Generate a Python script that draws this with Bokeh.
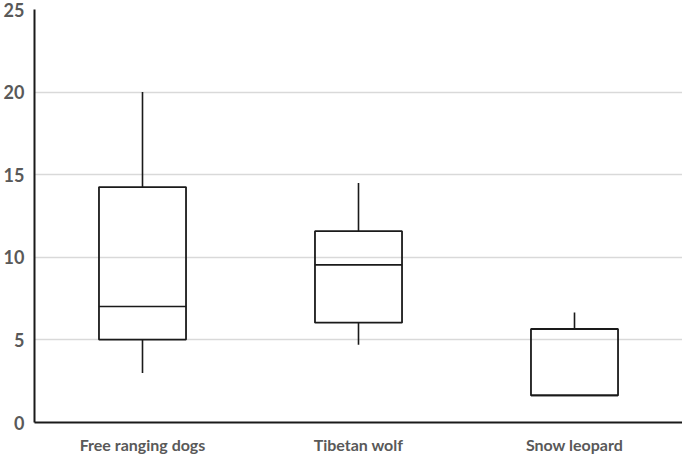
from bokeh.plotting import figure
from bokeh.models import FixedTicker, Range1d
from bokeh.embed import file_html
from bokeh.resources import INLINE

categories = ["Free ranging dogs", "Tibetan wolf", "Snow leopard"]
whisker_low = [3.0, 4.7, 1.64]
q1 = [5.02, 6.04, 1.64]
median = [7.02, 9.54, 1.64]
q3 = [14.25, 11.58, 5.66]
whisker_high = [20.0, 14.5, 6.66]
y_ticks = [0, 5, 10, 15, 20, 25]

xs = [i + 0.5 for i in range(len(categories))]
bw = 0.403

p = figure(frame_width=648, frame_height=413, output_backend="svg", toolbar_location=None,
           x_range=Range1d(0, 3), y_range=Range1d(0, 25),
           min_border_left=0, min_border_right=0, min_border_top=9, min_border_bottom=0)
p.outline_line_color = None
p.background_fill_color = "white"
p.border_fill_color = "white"

# whiskers
p.segment(x0=xs, y0=q3, x1=xs, y1=whisker_high, line_color="#1a1a1a", line_width=1.6)
p.segment(x0=xs, y0=whisker_low, x1=xs, y1=q1, line_color="#1a1a1a", line_width=1.6)
# boxes
p.quad(left=[x - bw / 2 for x in xs], right=[x + bw / 2 for x in xs], bottom=q1, top=q3,
       fill_alpha=0, line_color="#1a1a1a", line_width=1.8)
# medians
p.segment(x0=[x - bw / 2 for x in xs], y0=median, x1=[x + bw / 2 for x in xs], y1=median,
          line_color="#1a1a1a", line_width=1.6)

p.xaxis.ticker = FixedTicker(ticks=xs)
p.xaxis.major_label_overrides = {x: c for x, c in zip(xs, categories)}
p.yaxis.ticker = FixedTicker(ticks=y_ticks)

for ax in (p.xaxis[0], p.yaxis[0]):
    ax.major_tick_line_color = None
    ax.minor_tick_line_color = None
    ax.major_tick_out = 0
    ax.major_tick_in = 0
    ax.axis_line_color = "#1a1a1a"
    ax.axis_line_width = 2
    ax.major_label_text_font = "Lato"
    ax.major_label_text_font_style = "bold"
    ax.major_label_text_color = "#595959"
    ax.major_label_text_font_size = "16px"

p.yaxis.major_label_text_font_size = "18px"
p.xaxis.major_label_standoff = 12
p.yaxis.major_label_standoff = 10

p.xgrid.grid_line_color = None
p.ygrid.grid_line_color = "#d9d9d9"
p.ygrid.grid_line_width = 1.5

open("out.html", "w").write(file_html(p, INLINE))
